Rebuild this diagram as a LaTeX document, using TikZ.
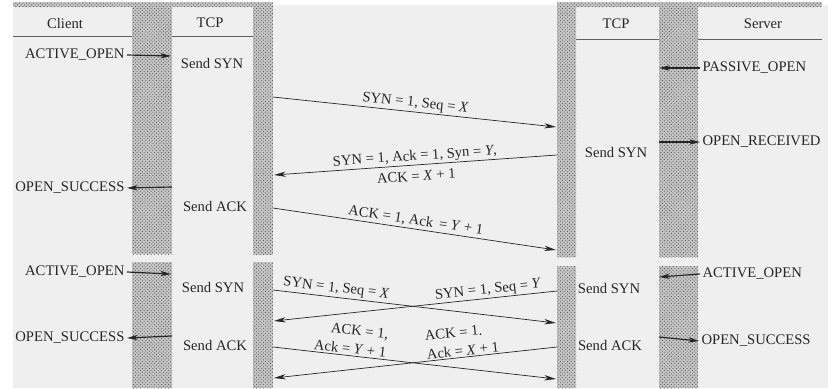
\documentclass[tikz,border=0pt]{standalone}
\usepackage{fontspec}
\setmainfont{Liberation Serif}
\usetikzlibrary{arrows.meta, patterns, positioning}
\definecolor{paper}{RGB}{239,239,239}
\definecolor{ink}{RGB}{38,38,38}
\definecolor{dotgray}{RGB}{80,80,80}

\begin{document}
\begin{tikzpicture}[x=0.03cm, y=-0.03cm,
    every node/.style={font=\fontsize{12.5}{12.5}\selectfont, text=ink, inner sep=2pt},
    bar/.style={preaction={fill=gray!45}, pattern=crosshatch dots, pattern color=dotgray},
    rule/.style={draw=gray!75!black, line width=0.8pt},
    msg/.style={-{Stealth[length=10pt, width=4.5pt, inset=3pt]}, line width=0.6pt, ink},
    evt/.style={-{Stealth[length=9pt, width=4.5pt, inset=2.5pt]}, line width=1pt, ink},
    lbl/.style={sloped, inner sep=1.5pt},
    twoline/.style={font=\fontsize{12.5}{16}\selectfont}]
        \useasboundingbox (0,0) rectangle (836,388);
        \fill[white] (0,0) rectangle (836,388);
        \fill[paper] (13,5) rectangle (828,388);

        % COLUMNS
        \path[bar] (13,2) rectangle (273,7);
        \path[bar] (557,2) rectangle (822,7);
        \path[bar] (132,5) rectangle (172,254);
        \path[bar] (253,5) rectangle (273,255);
        \path[bar] (557,5) rectangle (576,257);
        \path[bar] (659,5) rectangle (698,257);
        \path[bar] (132,262) rectangle (172,388);
        \path[bar] (253,262) rectangle (273,388);
        \path[bar] (557,266) rectangle (576,388);
        \path[bar] (659,266) rectangle (698,388);

        \node (client) at (65,23) {Client};
        \node (tcpa) at (210,23) {TCP};
        \node (tcpb) at (616,24) {TCP};
        \node (server) at (763,24) {Server};
        \draw[rule] (13,36) -- (132,36);
        \draw[rule] (172,36) -- (253,36);
        \draw[rule] (576,39) -- (659,39);
        \draw[rule] (698,39) -- (822,39);

        % ONE SIDE OPENS
        \node[anchor=east] (aopen1) at (127,55) {ACTIVE\_OPEN};
        \coordinate (aopen1t) at (171,56);
        \draw[evt] (aopen1.east) -- (aopen1t);
        \node (ssyn1) at (212,63) {Send SYN};

        \node[anchor=west] (popen) at (700,68) {PASSIVE\_OPEN};
        \coordinate (popent) at (659,68);
        \draw[evt] (popen.west) -- (popent);

        \coordinate (m1a) at (273,97);
        \coordinate (m1b) at (556,127);
        \draw[msg] (m1a) -- node[lbl, above] {SYN = 1, Seq = \textit{X}} (m1b);

        \coordinate (orecvs) at (659,142);
        \node[anchor=west] (orecv) at (700,142) {OPEN\_RECEIVED};
        \draw[evt] (orecvs) -- (orecv.west);
        \node (ssyn2) at (616,152) {Send SYN};

        \coordinate (m2a) at (557,155);
        \coordinate (m2b) at (274,175);
        \draw[msg] (m2a) -- node[lbl, above, inner sep=1pt] {SYN = 1, Ack = 1, Syn = \textit{Y},}
            node[lbl, below, inner sep=5pt] {ACK = \textit{X} + 1} (m2b);

        \coordinate (osucc1s) at (172,187);
        \node[anchor=east] (osucc1) at (127,188) {OPEN\_SUCCESS};
        \draw[evt] (osucc1s) -- (osucc1.east);
        \node (sack1) at (215,206) {Send ACK};

        \coordinate (m3a) at (273,208);
        \coordinate (m3b) at (556,250);
        \draw[msg] (m3a) -- node[lbl, above] {ACK = 1, Ack \,= \textit{Y} + 1} (m3b);

        % BOTH SIDES OPEN
        \node[anchor=east] (aopen2) at (127,272) {ACTIVE\_OPEN};
        \coordinate (aopen2t) at (171,274);
        \draw[evt] (aopen2.east) -- (aopen2t);
        \node (ssyn3) at (213,287) {Send SYN};

        \node[anchor=west] (aopen3) at (700,274) {ACTIVE\_OPEN};
        \coordinate (aopen3t) at (659,277);
        \draw[evt] (aopen3.west) -- (aopen3t);
        \node (ssyn4) at (609,288) {Send SYN};

        \coordinate (mxa) at (273,290);
        \coordinate (mxb) at (556,323);
        \draw[msg] (mxa) -- node[lbl, above, pos=0.22] {SYN = 1, Seq = \textit{X}} (mxb);
        \coordinate (mya) at (557,291);
        \coordinate (myb) at (274,321);
        \draw[msg] (mya) -- node[lbl, above, pos=0.24, inner sep=1pt] {SYN = 1, Seq = \textit{Y}} (myb);

        \coordinate (osucc2s) at (172,336);
        \node[anchor=east] (osucc2) at (127,338) {OPEN\_SUCCESS};
        \draw[evt] (osucc2s) -- (osucc2.east);
        \node (sack3) at (215,345) {Send ACK};

        \coordinate (osucc3s) at (659,337);
        \node[anchor=west] (osucc3) at (699,341) {OPEN\_SUCCESS};
        \draw[evt] (osucc3s) -- (osucc3.west);
        \node (sack4) at (610,345) {Send ACK};

        \coordinate (mza) at (273,347);
        \coordinate (mzb) at (556,379);
        \draw[msg] (mza) -- node[lbl, twoline, above, pos=0.27, align=right] {ACK = 1,\\ Ack = \textit{Y} + 1} (mzb);
        \coordinate (mwa) at (557,347);
        \coordinate (mwb) at (274,378);
        \draw[msg] (mwa) -- node[lbl, twoline, above, pos=0.33, align=left, inner sep=1pt] {ACK = 1.\\ Ack = \textit{X} + 1} (mwb);
\end{tikzpicture}
\end{document}
